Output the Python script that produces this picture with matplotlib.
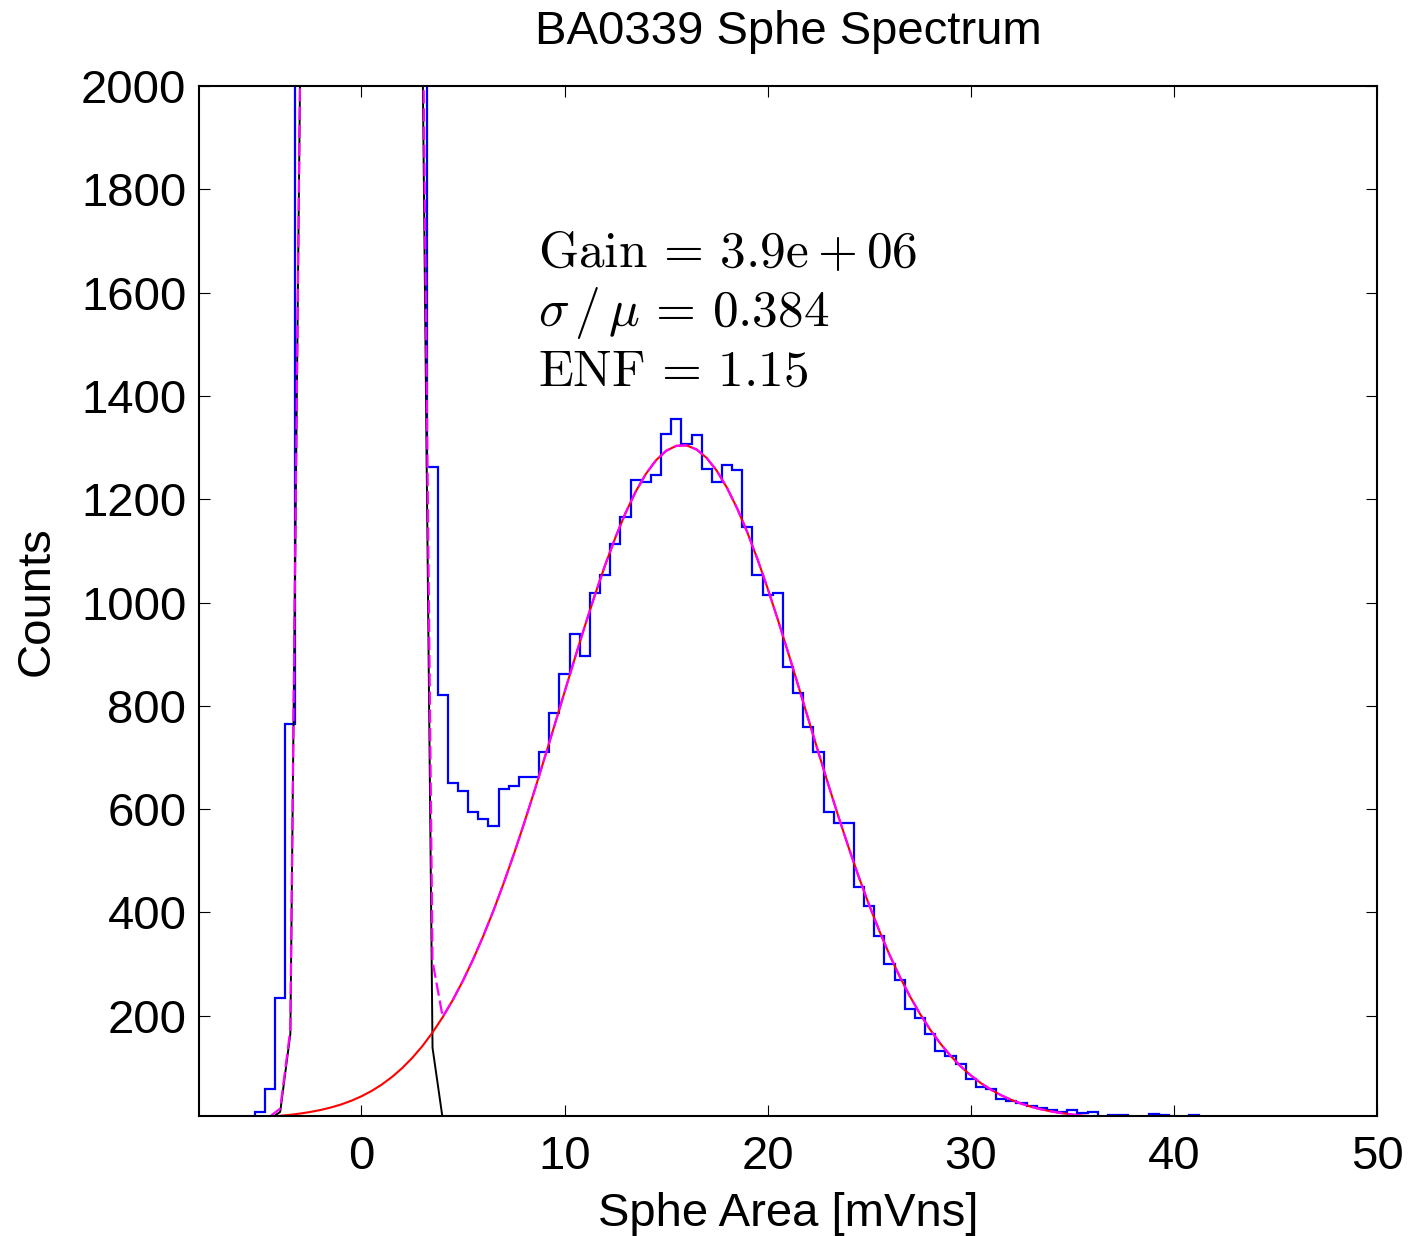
import numpy as np
import matplotlib
matplotlib.use("Agg")
import matplotlib.pyplot as plt

plt.rcParams['font.family'] = ['Liberation Sans', 'DejaVu Sans']
plt.rcParams['mathtext.fontset'] = 'cm'

# histogram: bin centres from -5.0 to 41.0, width 0.5
bin_width = 0.5
bin_centers = np.arange(-5.0, 41.01, bin_width)
counts = [13, 58, 235, 765, 3000, 15000, 45000, 90000, 130000, 150000,
          155000, 148000, 125000, 85000, 42000, 14000, 4000, 1263, 821, 651,
          635, 595, 581, 567, 640, 645, 662, 662, 711, 787,
          862, 939, 897, 1018, 1054, 1113, 1165, 1238, 1233, 1246,
          1326, 1356, 1306, 1324, 1258, 1233, 1266, 1257, 1146, 1054,
          1014, 1019, 876, 825, 759, 711, 595, 573, 573, 450,
          413, 354, 301, 269, 214, 195, 165, 131, 122, 106,
          77, 62, 58, 39, 35, 31, 25, 21, 18, 14,
          18, 11, 14, 3, 7, 7, 4, 4, 9, 7,
          3, 3, 8]

# fit curves, evaluated at bin centres from -4.5 to 36.0
fit_x = np.arange(-4.5, 36.01, bin_width)
pedestal_fit = [0.3, 14, 165, 2100, 14000, 52000, 110000, 150000, 175000,
                180000, 172000, 145000, 105000, 50000, 13000, 2100, 138, 0.5]
spe_fit = [4.9, 6.4, 8.3, 10.8, 13.9, 17.7, 22.5, 28.3, 35.5, 44.1,
           54.5, 66.8, 81.4, 98.5, 118.4, 141.3, 167.6, 197.3, 230.7, 268.1,
           309.4, 354.6, 403.6, 456.4, 512.5, 571.6, 633.3, 696.9, 761.6, 826.7,
           891.4, 954.7, 1015.4, 1072.8, 1125.7, 1173.3, 1214.6, 1248.9, 1275.4, 1293.8,
           1303.4, 1304.3, 1296.4, 1279.8, 1254.8, 1222.0, 1182.1, 1135.7, 1083.8, 1027.2,
           967.0, 904.2, 839.8, 774.6, 709.7, 645.8, 583.7, 524.1, 467.3, 414.0,
           364.1, 318.0, 276.0, 237.9, 203.7, 173.2, 146.3, 122.7, 102.2, 84.6,
           69.5, 56.8, 46.0, 37.1, 29.7, 23.6, 18.6, 14.6, 11.4, 8.8,
           6.7, 5.1]

ped = np.zeros(len(fit_x))
ped[:len(pedestal_fit)] = pedestal_fit
total_fit = ped + np.array(spe_fit)

gain_text = r'$\mathrm{Gain}\,=\,3.9\mathrm{e}+06$'
ratio_text = r'$\sigma\,/\,\mu\,=\,0.384$'
enf_text = r'$\mathrm{ENF}\,=\,1.15$'

fig = plt.figure(figsize=(14.08, 12.36), dpi=100)
ax = fig.add_axes([0.1413, 0.0971, 0.8367, 0.8333])

edges = np.append(bin_centers - bin_width / 2, bin_centers[-1] + bin_width / 2)
ax.stairs(counts, edges, color='blue', lw=1.6)
ax.plot(fit_x[:len(pedestal_fit)], pedestal_fit, color='black', lw=1.4)
ax.plot(fit_x, spe_fit, color='red', lw=1.5)
ax.plot(fit_x, total_fit, color='magenta', lw=1.6, dashes=(6, 2.2))

ax.set_xlim(-8, 50)
ax.set_ylim(6, 2000)
ax.set_xticks(np.arange(0, 51, 10))
ax.set_yticks(np.arange(200, 2001, 200))

ax.tick_params(direction='in', top=True, right=True, length=8, width=0.8,
               labelsize=34)
ax.tick_params(axis='y', pad=9)
ax.tick_params(axis='x', pad=14)
for sp in ax.spines.values():
    sp.set_linewidth(1.5)

ax.set_xlabel('Sphe Area [mVns]', fontsize=34, labelpad=9)
ax.set_ylabel('Counts', fontsize=34, labelpad=16)
ax.set_title('BA0339 Sphe Spectrum', fontsize=34, pad=30)

ax.text(8.7, 1649, gain_text, fontsize=37, va='baseline')
ax.text(8.7, 1535, ratio_text, fontsize=37, va='baseline')
ax.text(8.7, 1419, enf_text, fontsize=37, va='baseline')

fig.savefig('out.png', dpi=100)
